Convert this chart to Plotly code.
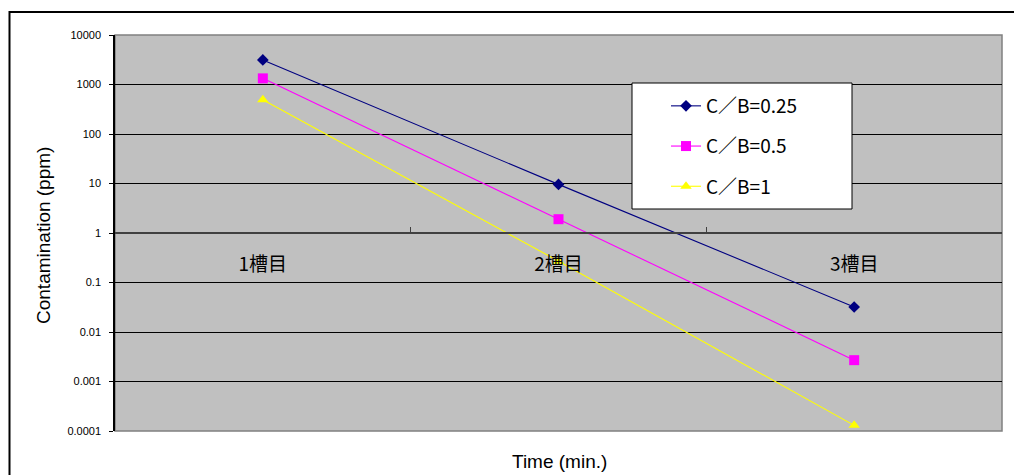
import plotly.graph_objects as go

# Stages (tanks) along the x axis
stages = ["1槽目", "2槽目", "3槽目"]

# Contamination (ppm) per stage for each C/B ratio
cb_025 = [3130, 9.6, 0.032]
cb_05 = [1330, 1.9, 0.0027]
cb_1 = [490, 0.27, 0.00013]

series_names = ["C／B=0.25", "C／B=0.5", "C／B=1"]
series_values = [cb_025, cb_05, cb_1]
series_colors = ["#000080", "#FF00FF", "#FFFF00"]
series_symbols = ["diamond", "square", "triangle-up"]
series_sizes = [9, 10, 10]

y_tickvals = [1e-4, 1e-3, 1e-2, 1e-1, 1, 10, 100, 1000, 10000]
y_ticktext = ["0.0001", "0.001", "0.01", "0.1", "1", "10", "100", "1000", "10000"]

CJK = "Noto Sans CJK JP, Liberation Sans, sans-serif"
LAT = "Liberation Sans, Arial, sans-serif"

fig = go.Figure()
for name, vals, col, sym, sz in zip(series_names, series_values, series_colors,
                                    series_symbols, series_sizes):
    fig.add_trace(go.Scatter(
        x=stages, y=vals, name=name, mode="lines+markers",
        legendgroup=name,
        line=dict(color=col, width=1.1),
        marker=dict(symbol=sym, size=sz, color=col, line=dict(width=0)),
    ))

W, H = 1014, 475
ml, mr, mt, mb = 115, 12, 35, 44
pw, ph = W - ml - mr, H - mt - mb


def px_x(x):
    return (x - ml) / pw


def px_y(y):
    return (H - mb - y) / ph


fig.update_layout(
    width=W, height=H,
    margin=dict(l=ml, r=mr, t=mt, b=mb, pad=0),
    paper_bgcolor="white",
    plot_bgcolor="#C0C0C0",
    showlegend=True,
    legend=dict(
        x=px_x(666), y=px_y(87), xanchor="left", yanchor="top",
        bgcolor="rgba(0,0,0,0)", borderwidth=0,
        font=dict(family=CJK, size=19, color="black"),
        tracegroupgap=12.5,
    ),
    xaxis=dict(
        type="category", categoryorder="array", categoryarray=stages,
        range=[-0.5, 2.5],
        anchor="free", position=0.5,
        showline=True, linecolor="#404040", linewidth=2,
        ticks="inside", ticklen=5, tickcolor="#404040", tickwidth=1,
        tickson="boundaries",
        showgrid=False, zeroline=False,
        tickfont=dict(family=CJK, size=19, color="black"),
        ticklabelstandoff=14,
    ),
    yaxis=dict(
        type="log", range=[-4, 4],
        tickvals=y_tickvals, ticktext=y_ticktext,
        showline=True, linecolor="black", linewidth=1.5,
        ticks="outside", ticklen=4, tickcolor="black",
        showgrid=True, gridcolor="black", gridwidth=1,
        zeroline=False,
        tickfont=dict(family=LAT, size=11, color="black"),
        ticklabelstandoff=6,
    ),
    shapes=[
        # plot area frame
        dict(type="rect", xref="paper", yref="paper", x0=0, x1=1, y0=0, y1=1,
             line=dict(color="#808080", width=1.5), layer="below"),
        # legend box
        dict(type="rect", xref="paper", yref="paper",
             x0=px_x(632), x1=px_x(852), y0=px_y(209), y1=px_y(83),
             fillcolor="white", line=dict(color="black", width=1),
             layer="above"),
        # chart outer border
        dict(type="rect", xref="paper", yref="paper",
             x0=px_x(9.5), x1=px_x(1020), y0=px_y(480), y1=px_y(12),
             line=dict(color="black", width=2)),
    ],
    annotations=[
        dict(text="Time (min.)", xref="paper", yref="paper",
             x=px_x(559), y=px_y(461), xanchor="center", yanchor="middle",
             showarrow=False, font=dict(family=LAT, size=19, color="black")),
        dict(text="Contamination (ppm)", xref="paper", yref="paper",
             x=px_x(43), y=px_y(236), xanchor="center", yanchor="middle",
             textangle=-90, showarrow=False,
             font=dict(family=LAT, size=19, color="black")),
    ],
)

fig.write_html("out.html")
